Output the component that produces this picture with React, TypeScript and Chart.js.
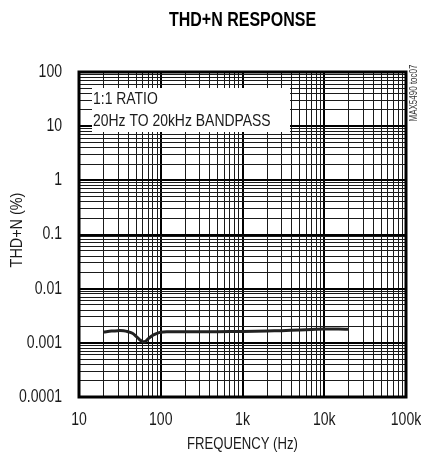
import React, { useEffect, useRef } from "react";
import { Chart, registerables } from "chart.js";

Chart.register(...registerables);

const TITLE = "THD+N RESPONSE";
const X_TITLE = "FREQUENCY (Hz)";
const Y_TITLE = "THD+N (%)";
const NOTE_LINES = ["1:1 RATIO", "20Hz TO 20kHz BANDPASS"];
const SIDE_TAG = "MAX5490 toc07";

const X_TICK_VALUES = [10, 100, 1000, 10000, 100000];
const X_TICK_LABELS = ["10", "100", "1k", "10k", "100k"];
const Y_TICK_VALUES = [100, 10, 1, 0.1, 0.01, 0.001, 0.0001];
const Y_TICK_LABELS = ["100", "10", "1", "0.1", "0.01", "0.001", "0.0001"];

const X_MIN = 10;
const X_MAX = 100000;
const Y_MIN = 0.0001;
const Y_MAX = 100;

const frequencyHz = [
  20, 25, 30, 35, 40, 45, 50, 55, 60, 65, 70, 80, 90, 100, 120, 150, 200, 300,
  500, 1000, 2000, 3000, 5000, 7000, 10000, 15000, 20000,
];
const thdnPercent = [
  0.00158, 0.00165, 0.00168, 0.00167, 0.0016, 0.0015, 0.00132, 0.00115,
  0.00105, 0.00106, 0.00118, 0.00138, 0.0015, 0.00157, 0.0016, 0.0016, 0.0016,
  0.0016, 0.00161, 0.00162, 0.00165, 0.00168, 0.00172, 0.00176, 0.0018,
  0.0018, 0.00178,
];

const FONT = "'Liberation Sans', Arial, sans-serif";

function logTicks(min: number, max: number) {
  const out: { value: number }[] = [];
  for (let e = Math.round(Math.log10(min)); e <= Math.round(Math.log10(max)); e++) {
    for (let m = 1; m <= 9; m++) {
      const v = parseFloat((m * Math.pow(10, e)).toPrecision(6));
      if (v >= min * 0.999 && v <= max * 1.001) out.push({ value: v });
    }
  }
  return out;
}
function isMajor(v: number) {
  const l = Math.log10(v);
  return Math.abs(l - Math.round(l)) < 1e-6;
}

function narrowText(
  ctx: CanvasRenderingContext2D,
  text: string,
  x: number,
  y: number,
  size: number,
  sx: number,
  align: CanvasTextAlign,
  weight = "normal",
  rotate = 0,
  color = "#1a1a1a"
) {
  ctx.save();
  ctx.translate(x, y);
  if (rotate) ctx.rotate(rotate);
  ctx.scale(sx, 1);
  ctx.font = `${weight} ${size}px ${FONT}`;
  ctx.fillStyle = color;
  ctx.textAlign = align;
  ctx.textBaseline = "middle";
  ctx.fillText(text, 0, 0);
  ctx.restore();
}

export default function App() {
  const ref = useRef<HTMLCanvasElement | null>(null);
  useEffect(() => {
    if (!ref.current) return;
    const deco = {
      id: "deco",
      beforeDatasetsDraw(chart: any) {
        const { ctx } = chart;
        ctx.save();
        ctx.fillStyle = "#fff";
        ctx.fillRect(92, 88, 198, 44);
        ctx.restore();
        narrowText(ctx, NOTE_LINES[0], 93, 99, 17, 0.82, "left");
        narrowText(ctx, NOTE_LINES[1], 93, 121, 17, 0.82, "left");
      },
      afterDraw(chart: any) {
        const { ctx, chartArea: a } = chart;
        const xs = chart.scales.x;
        const ys = chart.scales.y;
        ctx.save();
        ctx.strokeStyle = "#000";
        ctx.lineWidth = 3;
        ctx.strokeRect(a.left, a.top, a.right - a.left, a.bottom - a.top);
        ctx.restore();
        X_TICK_VALUES.forEach((v, i) => {
          narrowText(ctx, X_TICK_LABELS[i], xs.getPixelForValue(v), 420, 18, 0.78, "center");
        });
        Y_TICK_VALUES.forEach((v, i) => {
          narrowText(ctx, Y_TICK_LABELS[i], 62, ys.getPixelForValue(v), 18, 0.78, "right");
        });
        narrowText(ctx, TITLE, (a.left + a.right) / 2, 20, 20, 0.8, "center", "bold", 0, "#000");
        narrowText(ctx, X_TITLE, (a.left + a.right) / 2, 445, 16, 0.82, "center");
        narrowText(ctx, Y_TITLE, 18, 230, 16, 0.9, "center", "normal", -Math.PI / 2);
        narrowText(ctx, SIDE_TAG, 414, 93, 10, 0.8, "center", "normal", -Math.PI / 2, "#333");
      },
    };
    const gridOpts = {
      drawTicks: false,
      color: (c: any) => (c.tick && isMajor(c.tick.value) ? "#000" : "#1a1a1a"),
      lineWidth: (c: any) => (c.tick && isMajor(c.tick.value) ? 2 : 1),
    };
    const chart = new Chart(ref.current, {
      type: "line",
      data: {
        datasets: [
          {
            data: frequencyHz.map((f, i) => ({ x: f, y: thdnPercent[i] })),
            borderColor: "#222",
            borderWidth: 3,
            pointRadius: 0,
            tension: 0.35,
            fill: false,
          },
        ],
      },
      options: {
        animation: false,
        responsive: false,
        layout: { padding: { left: 0, top: 72, right: 15, bottom: 0 } },
        plugins: { legend: { display: false }, tooltip: { enabled: false }, title: { display: false } },
        scales: {
          x: {
            type: "logarithmic",
            min: X_MIN,
            max: X_MAX,
            afterBuildTicks: (s: any) => {
              s.ticks = logTicks(X_MIN, X_MAX);
            },
            afterFit: (s: any) => {
              s.height = 57;
              s.paddingLeft = 0;
              s.paddingRight = 0;
            },
            ticks: { display: false, autoSkip: false },
            grid: gridOpts,
            border: { display: false },
          },
          y: {
            type: "logarithmic",
            min: Y_MIN,
            max: Y_MAX,
            afterBuildTicks: (s: any) => {
              s.ticks = logTicks(Y_MIN, Y_MAX);
            },
            afterFit: (s: any) => {
              s.width = 79;
              s.paddingTop = 0;
              s.paddingBottom = 0;
            },
            ticks: { display: false, autoSkip: false },
            grid: gridOpts,
            border: { display: false },
          },
        },
      },
      plugins: [deco],
    } as any);
    return () => chart.destroy();
  }, []);
  return (
    <div style={{ position: "fixed", left: 0, top: 0, width: 421, height: 454, background: "#fff" }}>
      <canvas ref={ref} width={421} height={454} style={{ display: "block" }} />
    </div>
  );
}
